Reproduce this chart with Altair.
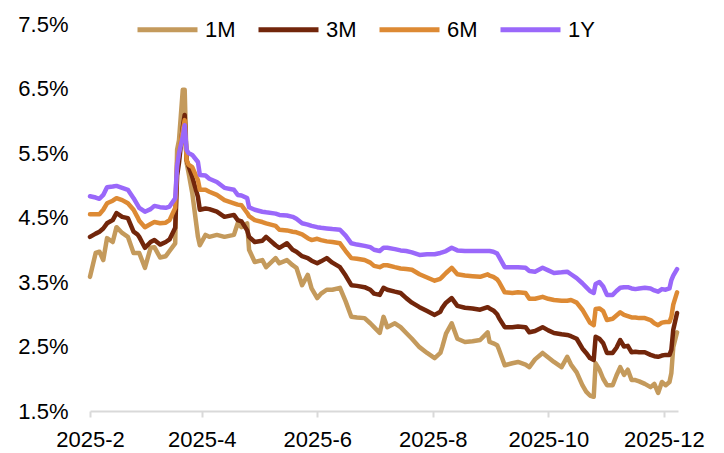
import altair as alt
import pandas as pd

dates = [
    "2025-02-01", "2025-02-04", "2025-02-06", "2025-02-08", "2025-02-10", "2025-02-13", "2025-02-15",
    "2025-02-18", "2025-02-21", "2025-02-24", "2025-02-26", "2025-02-27", "2025-03-02", "2025-03-05",
    "2025-03-07", "2025-03-10", "2025-03-13", "2025-03-15", "2025-03-18", "2025-03-19", "2025-03-20",
    "2025-03-22", "2025-03-23", "2025-03-24", "2025-03-25", "2025-03-27", "2025-03-30", "2025-03-31",
    "2025-04-03", "2025-04-05", "2025-04-09", "2025-04-13", "2025-04-18", "2025-04-20", "2025-04-22",
    "2025-04-25", "2025-04-26", "2025-04-29", "2025-05-03", "2025-05-05", "2025-05-10", "2025-05-12",
    "2025-05-16", "2025-05-19", "2025-05-21", "2025-05-24", "2025-05-27", "2025-05-29", "2025-06-01",
    "2025-06-03", "2025-06-06", "2025-06-09", "2025-06-13", "2025-06-16", "2025-06-19", "2025-06-22",
    "2025-06-26", "2025-06-29", "2025-07-01", "2025-07-04", "2025-07-06", "2025-07-08", "2025-07-12",
    "2025-07-15", "2025-07-18", "2025-07-21", "2025-07-25", "2025-07-29", "2025-08-02", "2025-08-05",
    "2025-08-06", "2025-08-08", "2025-08-11", "2025-08-14", "2025-08-18", "2025-08-22", "2025-08-26",
    "2025-08-30", "2025-08-31", "2025-09-02", "2025-09-04", "2025-09-05", "2025-09-08", "2025-09-12",
    "2025-09-15", "2025-09-19", "2025-09-21", "2025-09-24", "2025-09-28", "2025-10-01", "2025-10-04",
    "2025-10-08", "2025-10-11", "2025-10-13", "2025-10-16", "2025-10-19", "2025-10-21", "2025-10-23",
    "2025-10-25", "2025-10-26", "2025-10-28", "2025-10-30", "2025-11-01", "2025-11-04", "2025-11-06",
    "2025-11-08", "2025-11-10", "2025-11-12", "2025-11-14", "2025-11-16", "2025-11-18", "2025-11-21",
    "2025-11-24", "2025-11-26", "2025-11-28", "2025-11-30", "2025-12-02", "2025-12-04", "2025-12-05",
    "2025-12-06", "2025-12-08",
]

m1 = [
    3.58, 3.95, 3.97, 3.84, 4.18, 4.12, 4.35, 4.26, 4.20, 3.95, 3.95, 3.95, 3.72, 4.03,
    4.04, 3.88, 3.90, 3.98, 4.10, 5.55, 5.70, 6.48, 6.48, 5.35, 5.20, 4.88, 4.20, 4.07,
    4.23, 4.20, 4.23, 4.20, 4.23, 4.41, 4.35, 4.41, 4.00, 3.81, 3.84, 3.73, 3.87, 3.79,
    3.84, 3.76, 3.72, 3.45, 3.61, 3.40, 3.25, 3.32, 3.38, 3.38, 3.41, 3.20, 2.96, 2.95,
    2.94, 2.86, 2.80, 2.71, 2.96, 2.80, 2.86, 2.80, 2.71, 2.62, 2.49, 2.40, 2.32, 2.40,
    2.49, 2.70, 2.86, 2.62, 2.57, 2.58, 2.60, 2.72, 2.57, 2.55, 2.52, 2.45, 2.21, 2.24,
    2.26, 2.22, 2.18, 2.30, 2.40, 2.33, 2.26, 2.18, 2.34, 2.22, 2.10, 1.90, 1.80, 1.74,
    1.72, 2.24, 2.14, 2.00, 1.90, 1.90, 2.05, 2.18, 2.06, 2.14, 1.98, 1.98, 1.96, 1.92,
    1.87, 1.92, 1.78, 1.95, 1.90, 1.95, 2.09, 2.49, 2.72,
]

m3 = [
    4.20, 4.25, 4.28, 4.33, 4.41, 4.46, 4.57, 4.51, 4.49, 4.28, 4.24, 4.20, 4.03, 4.12,
    4.15, 4.08, 4.12, 4.16, 4.34, 5.15, 5.35, 5.90, 6.09, 5.39, 5.30, 5.13, 4.82, 4.62,
    4.64, 4.63, 4.59, 4.51, 4.54, 4.46, 4.44, 4.30, 4.20, 4.12, 4.14, 4.20, 4.07, 4.03,
    4.10, 4.00, 3.97, 3.90, 3.87, 3.83, 3.79, 3.82, 3.87, 3.80, 3.73, 3.60, 3.45, 3.44,
    3.42, 3.38, 3.32, 3.30, 3.41, 3.38, 3.35, 3.33, 3.25, 3.18, 3.11, 3.05, 2.99, 3.04,
    3.10, 3.18, 3.25, 3.13, 3.10, 3.09, 3.07, 3.11, 3.09, 3.06, 3.00, 2.94, 2.80, 2.80,
    2.81, 2.80, 2.72, 2.74, 2.80, 2.75, 2.71, 2.69, 2.68, 2.66, 2.62, 2.47, 2.40, 2.32,
    2.29, 2.65, 2.62, 2.55, 2.40, 2.40, 2.48, 2.60, 2.50, 2.51, 2.41, 2.42, 2.41, 2.41,
    2.37, 2.35, 2.34, 2.36, 2.37, 2.37, 2.45, 2.76, 3.02,
]

m6 = [
    4.55, 4.55, 4.55, 4.62, 4.72, 4.76, 4.80, 4.77, 4.72, 4.62, 4.51, 4.45, 4.35, 4.40,
    4.43, 4.41, 4.42, 4.46, 4.65, 5.35, 5.52, 5.85, 6.01, 5.39, 5.32, 5.28, 5.08, 4.93,
    4.93, 4.90, 4.85, 4.77, 4.72, 4.70, 4.69, 4.57, 4.52, 4.46, 4.43, 4.41, 4.37, 4.31,
    4.30, 4.28, 4.27, 4.24, 4.18, 4.15, 4.17, 4.15, 4.13, 4.12, 4.10, 3.98, 3.87, 3.86,
    3.84, 3.80, 3.75, 3.73, 3.76, 3.76, 3.73, 3.71, 3.70, 3.69, 3.62, 3.57, 3.52, 3.55,
    3.58, 3.64, 3.72, 3.62, 3.60, 3.59, 3.58, 3.62, 3.60, 3.58, 3.54, 3.50, 3.34, 3.33,
    3.34, 3.33, 3.24, 3.24, 3.27, 3.24, 3.22, 3.21, 3.21, 3.22, 3.18, 3.07, 2.97, 2.87,
    2.83, 3.08, 3.09, 3.05, 2.91, 2.93, 2.98, 3.03, 2.99, 2.97, 2.95, 2.95, 2.94, 2.94,
    2.91, 2.86, 2.83, 2.87, 2.88, 2.88, 2.96, 3.15, 3.34,
]

y1 = [
    4.83, 4.81, 4.79, 4.85, 4.97, 4.98, 4.99, 4.96, 4.93, 4.80, 4.70, 4.65, 4.59, 4.63,
    4.68, 4.66, 4.65, 4.67, 4.80, 5.30, 5.50, 5.75, 5.93, 5.55, 5.50, 5.47, 5.36, 5.16,
    5.15, 5.10, 5.05, 4.96, 4.93, 4.85, 4.84, 4.80, 4.66, 4.62, 4.59, 4.58, 4.56, 4.54,
    4.53, 4.51, 4.48, 4.41, 4.39, 4.37, 4.35, 4.34, 4.33, 4.32, 4.31, 4.22, 4.10, 4.08,
    4.06, 4.04, 4.00, 3.98, 4.03, 4.03, 4.01, 3.99, 3.98, 3.96, 3.92, 3.93, 3.93, 3.95,
    3.96, 3.98, 4.03, 3.99, 3.98, 3.98, 3.98, 3.98, 3.98, 3.97, 3.94, 3.89, 3.73, 3.73,
    3.73, 3.72, 3.67, 3.66, 3.72, 3.68, 3.64, 3.65, 3.66, 3.62, 3.56, 3.48, 3.42, 3.36,
    3.33, 3.47, 3.50, 3.43, 3.30, 3.30, 3.36, 3.41, 3.42, 3.42, 3.40, 3.39, 3.40, 3.41,
    3.40, 3.37, 3.35, 3.39, 3.38, 3.40, 3.53, 3.60, 3.70,
]

series_names = ["1M", "3M", "6M", "1Y"]
series_colors = ["#C49A5C", "#72260B", "#DD8A34", "#9A68FA"]

rows = []
for name, vals in zip(series_names, [m1, m3, m6, y1]):
    for d, v in zip(dates, vals):
        rows.append({"date": d + "T00:00:00", "series": name, "value": v})
df = pd.DataFrame(rows)
order_map = {n: i for i, n in enumerate(series_names)}
df["order"] = df["series"].map(order_map)

tick_dates = [alt.DateTime(year=2025, month=m, date=1) for m in [2, 4, 6, 8, 10, 12]]
FONT = "Liberation Sans"

chart = (
    alt.Chart(df)
    .mark_line(strokeWidth=4.5, strokeJoin="round", strokeCap="round")
    .encode(
        x=alt.X(
            "date:T",
            scale=alt.Scale(
                domain=[
                    alt.DateTime(year=2025, month=2, date=1),
                    alt.DateTime(year=2025, month=12, date=8, hours=12),
                ]
            ),
            axis=alt.Axis(
                values=tick_dates,
                format="%Y-%-m",
                title=None,
                grid=False,
                domainColor="#d9d9d9",
                domainWidth=2,
                tickColor="#d9d9d9",
                tickWidth=2,
                tickSize=6,
                labelFont=FONT,
                labelFontSize=22,
                labelColor="#000000",
                labelPadding=12,
                labelAngle=0,
                labelOverlap=False,
                labelFlush=False,
            ),
        ),
        y=alt.Y(
            "value:Q",
            scale=alt.Scale(domain=[1.5, 7.5], nice=False, zero=False),
            axis=alt.Axis(
                values=[1.5, 2.5, 3.5, 4.5, 5.5, 6.5, 7.5],
                labelExpr="format(datum.value, '.1f') + '%'",
                title=None,
                grid=False,
                domain=False,
                ticks=False,
                labelFont=FONT,
                labelFontSize=22,
                labelColor="#000000",
                labelPadding=22,
            ),
        ),
        color=alt.Color(
            "series:N",
            scale=alt.Scale(domain=series_names, range=series_colors),
            legend=alt.Legend(
                title=None,
                orient="none",
                direction="horizontal",
                legendX=45,
                legendY=-27,
                symbolType="stroke",
                symbolSize=3600,
                symbolStrokeWidth=5,
                labelFont=FONT,
                labelFontSize=22,
                labelColor="#000000",
                labelOffset=5,
                columnPadding=12,
                padding=0,
            ),
        ),
        order=alt.Order("order:Q"),
        detail="series:N",
    )
    .properties(
        width=588,
        height=387,
        autosize=alt.AutoSizeParams(type="none"),
        padding={"left": 82, "top": 16, "right": 38, "bottom": 40},
    )
    .configure_view(stroke=None)
)

chart.save("out.html", embed_options={"renderer": "svg", "actions": False})
